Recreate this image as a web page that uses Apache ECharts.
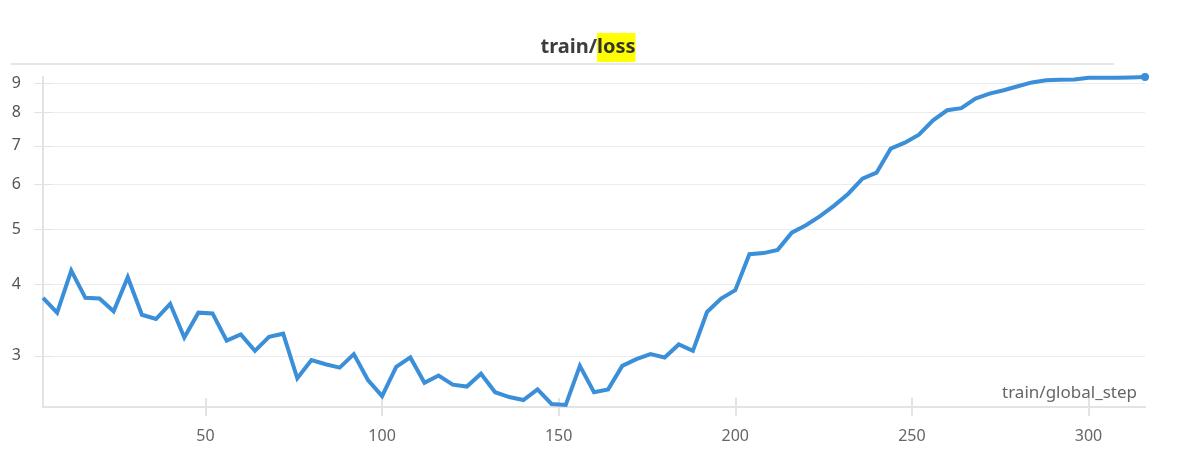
<!DOCTYPE html>
<html lang="en">
<head>
    <meta charset="UTF-8">
    <title>train/loss</title>
    <script src="https://cdn.jsdelivr.net/npm/echarts@6/dist/echarts.min.js"></script>
    <style>
        html, body { margin: 0; padding: 0; background: #fff; }
    </style>
</head>
<body>
<div id="main" style="width: 1178px;height:462px;"></div>

<script type="text/javascript">
    // global_step of each logged point
    var steps = [
        4, 8, 12, 16, 20, 24, 28, 32, 36, 40,
        44, 48, 52, 56, 60, 64, 68, 72, 76, 80,
        84, 88, 92, 96, 100, 104, 108, 112, 116, 120,
        124, 128, 132, 136, 140, 144, 148, 152, 156, 160,
        164, 168, 172, 176, 180, 184, 188, 192, 196, 200,
        204, 208, 212, 216, 220, 224, 228, 232, 236, 240,
        244, 248, 252, 256, 260, 264, 268, 272, 276, 280,
        284, 288, 292, 296, 300, 304, 308, 312, 316
    ];
    // train/loss
    var loss = [
        3.79, 3.57, 4.23, 3.79, 3.78, 3.59, 4.12, 3.54, 3.48, 3.70,
        3.23, 3.57, 3.56, 3.19, 3.27, 3.06, 3.24, 3.28, 2.74, 2.95,
        2.90, 2.86, 3.02, 2.72, 2.55, 2.87, 2.98, 2.69, 2.77, 2.67,
        2.65, 2.79, 2.59, 2.54, 2.51, 2.62, 2.47, 2.46, 2.88, 2.59,
        2.62, 2.88, 2.96, 3.02, 2.98, 3.14, 3.06, 3.58, 3.78, 3.91,
        4.52, 4.54, 4.60, 4.93, 5.08, 5.27, 5.50, 5.77, 6.13, 6.28,
        6.92, 7.09, 7.32, 7.76, 8.08, 8.15, 8.47, 8.64, 8.76, 8.90,
        9.04, 9.12, 9.14, 9.15, 9.21, 9.21, 9.21, 9.22, 9.24
    ];
    var xTicks = [50, 100, 150, 200, 250, 300];
    var yTicks = [3, 4, 5, 6, 7, 8, 9];

    var font = '"Noto Sans", sans-serif';
    var lineColor = '#3b8fd9';
    var axisGray = '#e3e3e3';

    var points = [];
    for (var i = 0; i < steps.length; i++) {
        points.push([steps[i], loss[i]]);
    }
    var lastIndex = points.length - 1;

    var myChart = echarts.init(document.getElementById('main'));

    var xBase = {
        type: 'value',
        min: 4,
        max: 316,
        position: 'bottom',
        axisLine: { lineStyle: { color: axisGray, width: 2 } },
        splitLine: { show: false }
    };
    var yBase = {
        type: 'log',
        logBase: 10,
        min: 2.44,
        max: 9.24,
        position: 'left',
        axisLine: { show: true, lineStyle: { color: axisGray, width: 2 } }
    };

    var option = {
        animation: false,
        backgroundColor: '#fff',
        title: {
            text: '{a|train/}{b|loss}',
            left: 583,
            top: 28,
            textAlign: 'center',
            textStyle: {
                rich: {
                    a: { fontFamily: font, fontSize: 20, fontWeight: 'bold', color: '#3d3d3d', height: 29 },
                    b: { fontFamily: font, fontSize: 20, fontWeight: 'bold', color: '#333', height: 29, backgroundColor: '#ffff00' }
                }
            }
        },
        graphic: [{
            type: 'line',
            shape: { x1: 11, y1: 64, x2: 1114, y2: 64 },
            style: { stroke: '#e6e6e6', lineWidth: 2 },
            silent: true
        }],
        grid: { left: 43, right: 33, top: 77, bottom: 55 },
        xAxis: [
            echarts.util.merge({
                name: 'train/global_step',
                nameLocation: 'end',
                nameGap: -8,
                nameTextStyle: {
                    fontFamily: font, fontSize: 17, color: '#666',
                    align: 'right', verticalAlign: 'bottom', padding: [0, 0, 5, 0]
                },
                axisTick: { customValues: xTicks, length: 9, lineStyle: { color: axisGray, width: 2 } },
                axisLabel: { customValues: xTicks, margin: 21, fontFamily: font, fontSize: 16, color: '#666' }
            }, xBase, true),
            echarts.util.merge({
                axisTick: { customValues: xTicks, inside: true, length: 9, lineStyle: { color: axisGray, width: 2 } },
                axisLabel: { show: false }
            }, xBase, true)
        ],
        yAxis: [
            echarts.util.merge({
                axisTick: { show: true, customValues: yTicks, length: 9, lineStyle: { color: '#e3e3e3', width: 1 } },
                axisLabel: { customValues: yTicks, margin: 22, fontFamily: font, fontSize: 16, color: '#555' },
                splitLine: { show: true, lineStyle: { color: '#ececec', width: 1 } }
            }, yBase, true),
            echarts.util.merge({
                axisTick: { show: true, customValues: yTicks, inside: true, length: 9, lineStyle: { color: '#e3e3e3', width: 1 } },
                axisLabel: { show: false },
                splitLine: { show: false }
            }, yBase, true)
        ],
        series: [{
            name: 'train/loss',
            type: 'line',
            xAxisIndex: 0,
            yAxisIndex: 0,
            data: points,
            showSymbol: true,
            showAllSymbol: true,
            symbol: 'circle',
            symbolSize: function (val, params) {
                return params.dataIndex === lastIndex ? 8 : 0;
            },
            itemStyle: { color: lineColor },
            lineStyle: { color: lineColor, width: 4, join: 'miter' }
        }]
    };

    myChart.setOption(option);
</script>
</body>
</html>
